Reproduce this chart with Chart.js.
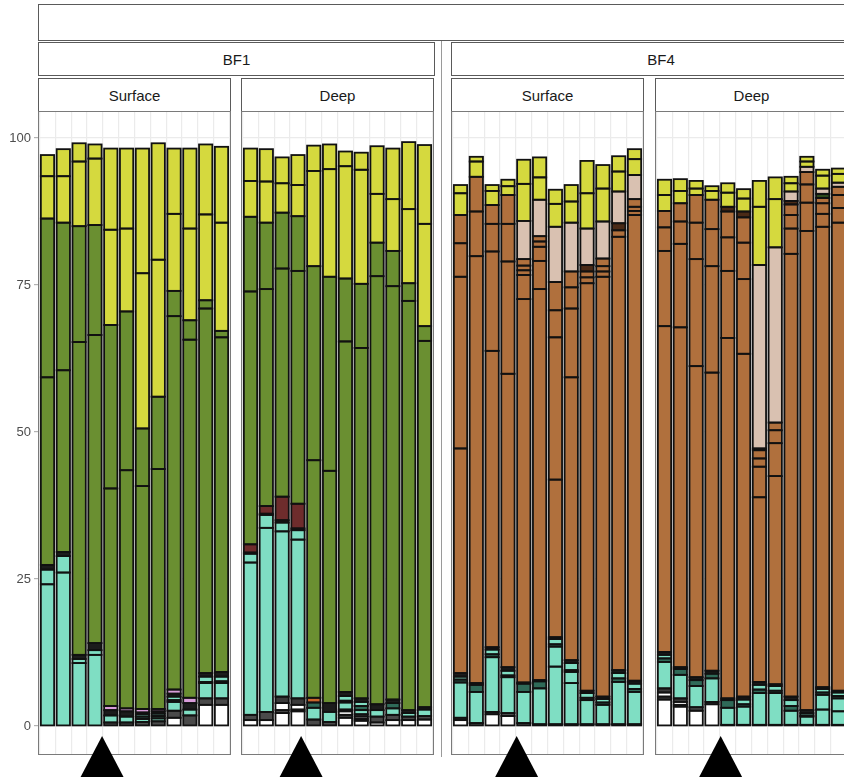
<!DOCTYPE html>
<html>
<head>
<meta charset="utf-8">
<script src="https://cdn.jsdelivr.net/npm/chart.js@4.4.1/dist/chart.umd.min.js"></script>
<style>
  body { margin: 0; background: #fff; width: 844px; height: 777px; overflow: hidden; position: relative;
         font-family: "Liberation Sans", Arial, sans-serif; }
  .strip { position: absolute; box-sizing: border-box; border: 1px solid #5a5a5a; background: #fff;
           color: #1a1a1a; font-size: 15px; display: flex; align-items: center; justify-content: center; }
  .sep { position: absolute; width: 1px; background: #9a9a9a; }
  canvas { position: absolute; }
</style>
</head>
<body>
<div class="strip" style="left:38px;top:4px;width:830px;height:37px"></div>
<div class="strip" style="left:38px;top:42px;width:397px;height:34px">BF1</div>
<div class="strip" style="left:451px;top:42px;width:420px;height:34px">BF4</div>
<div class="strip" style="left:38px;top:78px;width:193px;height:34px">Surface</div>
<div class="strip" style="left:241px;top:78px;width:193px;height:34px">Deep</div>
<div class="strip" style="left:451px;top:78px;width:193px;height:34px">Surface</div>
<div class="strip" style="left:655px;top:78px;width:193px;height:34px">Deep</div>
<div class="sep" style="left:441px;top:41px;height:716px"></div>

<script>
// echantillons (12 par panneau) et graduations
const samples = [1, 2, 3, 4, 5, 6, 7, 8, 9, 10, 11, 12];
const yTicks = [0, 25, 50, 75, 100];
// position des triangles (en unites d'echantillon)
const markerAt = [3.45, 3.2, 3.55, 3.55];

// ordre des couches, du bas vers le haut
const bf1Layers = ['white', 'dark1', 'white2', 'dark2', 'tealA', 'darkteal', 'tealC', 'dark3',
                   'pink', 'orange', 'darkred', 'green1', 'green2', 'yellow1', 'yellow2'];
const bf4Layers = ['white', 'dark1', 'white2', 'dark2', 'tealA', 'tealB', 'darkteal', 'tealC', 'dark3',
                   'brown1', 'brown2', 'brown3', 'brown4', 'brown5', 'darkbrown', 'darkgreen', 'tan',
                   'yellow1', 'yellow2'];

// BF1 - Surface
const bf1Surface = [
  [0, 0, 0, 0, 0, 0, 0, 0, 1.4, 0, 3.6, 3.6],
  [0, 0, 0, 0, 0.6, 0.6, 0.7, 0.8, 1.2, 1.8, 1.1, 1.1],
  [0, 0, 0, 0, 0, 0, 0, 0, 0, 0, 0, 0],
  [0, 0, 0, 0, 0, 0, 0, 0, 0, 0, 0, 0],
  [24.1, 26.1, 10.7, 12.1, 1.2, 1.0, 0.5, 0.5, 1.5, 1.0, 2.6, 2.6],
  [0, 0, 0, 0, 0, 0, 0.4, 0.4, 0.3, 0, 0.2, 0.3],
  [2.5, 2.8, 0.7, 0.8, 0, 0, 0.4, 0.4, 0.6, 0, 0.9, 0.8],
  [0.8, 0.7, 0.7, 1.2, 0.9, 0.9, 0.3, 0.4, 0.5, 1.1, 0.6, 0.8],
  [0, 0, 0, 0, 0.7, 0.5, 0.6, 0.4, 0.7, 0.9, 0, 0],
  [0, 0, 0, 0, 0, 0, 0, 0, 0, 0, 0, 0],
  [0, 0, 0, 0, 0, 0, 0, 0, 0, 0, 0, 0],
  [31.9, 30.9, 53.2, 52.4, 37.0, 40.5, 37.9, 40.8, 63.5, 60.9, 62.0, 56.9],
  [27.0, 25.1, 19.7, 18.7, 27.8, 27.0, 9.8, 12.3, 4.3, 3.3, 1.4, 1.1],
  [7.2, 7.9, 11.0, 11.3, 16.2, 14.1, 26.4, 23.3, 13.1, 15.6, 14.6, 18.4],
  [3.6, 4.6, 3.1, 2.4, 13.8, 13.6, 21.2, 19.8, 11.1, 13.6, 11.9, 12.9]
];

// BF1 - Deep
const bf1Deep = [
  [1.0, 1.0, 2.2, 2.5, 0, 0, 1.4, 0.9, 0.6, 1.0, 1.0, 1.1],
  [0.9, 1.4, 0.5, 0.3, 1.1, 0.7, 0.5, 0.3, 1.0, 0.9, 0.6, 0.6],
  [0, 0, 1.2, 0.8, 0, 0, 0.6, 0.4, 0, 0, 0, 0],
  [0, 0, 1.1, 1.1, 0, 0, 0.3, 0.4, 0, 0, 0, 0],
  [25.9, 31.3, 28.1, 27.0, 2.0, 1.7, 1.2, 0.7, 1.1, 1.1, 0.6, 1.1],
  [0, 0, 0, 0, 0.9, 0, 0.3, 0.7, 0, 0.9, 0, 0],
  [1.5, 2.2, 1.5, 1.6, 0, 0, 0.8, 0.7, 0, 0, 0, 0],
  [0.2, 0.2, 0.4, 0.3, 0, 1.5, 0.7, 0.6, 1.0, 0.6, 0.5, 0.4],
  [0, 0, 0, 0, 0, 0, 0, 0, 0, 0, 0, 0],
  [0, 0, 0, 0, 0.8, 0, 0, 0, 0, 0, 0, 0],
  [1.4, 1.3, 4.0, 4.2, 0, 0, 0, 0, 0, 0, 0, 0],
  [43.0, 36.9, 38.8, 39.6, 40.4, 39.5, 59.6, 59.6, 72.8, 70.3, 69.6, 62.3],
  [12.7, 11.3, 9.5, 9.3, 33.0, 33.0, 10.7, 10.9, 5.7, 6.0, 3.0, 2.5],
  [6.1, 7.0, 5.0, 5.3, 16.2, 18.3, 19.1, 19.4, 8.3, 8.8, 12.6, 17.4],
  [5.5, 5.5, 4.4, 5.1, 4.3, 4.2, 2.5, 2.9, 8.1, 8.6, 11.4, 13.4]
];

// BF4 - Surface
const bf4Surface = [
  [1.0, 0, 2.0, 1.7, 0, 0, 0, 0, 0, 0, 0, 0],
  [0.4, 0.5, 0.4, 0.5, 0.5, 0.3, 0.3, 0.3, 0.3, 0.3, 0.3, 0.3],
  [0, 0, 0, 0, 0, 0, 0, 0, 0, 0, 0, 0],
  [0, 0, 0, 0, 0, 0, 0, 0, 0, 0, 0, 0],
  [6.0, 5.3, 9.3, 6.1, 5.3, 6.1, 9.8, 7.0, 4.1, 3.3, 7.2, 5.5],
  [0, 0, 0, 0, 0, 0, 3.4, 1.9, 0, 0, 0, 0],
  [0.5, 1.2, 0.5, 0.3, 1.4, 1.2, 0.4, 0.3, 0.4, 0.4, 0.6, 0.5],
  [0.5, 0, 0.8, 0.8, 0, 0, 0.9, 1.2, 0.8, 0.6, 0.9, 0.9],
  [0.6, 0.3, 0.4, 0.6, 0.2, 0.2, 0.3, 0.5, 0.4, 0.4, 0.5, 0.5],
  [38.2, 72.6, 50.4, 49.9, 65.2, 66.5, 26.8, 48.1, 69.3, 71.4, 73.7, 79.2],
  [29.2, 7.6, 16.9, 19.1, 4.1, 4.8, 24.2, 11.7, 1.0, 0.9, 1.1, 0.7],
  [5.7, 5.9, 4.7, 6.4, 0.8, 2.4, 4.6, 3.6, 1.0, 0.9, 0, 0.7],
  [4.8, 0, 3.2, 4.9, 0.8, 0.9, 4.8, 2.7, 0, 1.3, 0, 1.3],
  [0, 0, 0, 0, 1.1, 0.9, 0, 0, 0, 0, 0, 0],
  [0, 0, 0, 0, 0, 0, 0, 0, 1.1, 0, 1.2, 0],
  [0, 0, 0, 0, 0, 0, 0, 0, 0, 0, 0, 0],
  [0, 0, 0, 0, 6.5, 6.2, 9.4, 8.3, 6.2, 6.3, 5.4, 4.1],
  [3.7, 2.6, 2.4, 1.5, 6.3, 3.8, 3.9, 3.6, 6.0, 5.6, 3.4, 2.7],
  [1.4, 0.8, 1.0, 1.1, 4.1, 3.4, 2.4, 2.8, 5.5, 4.0, 2.6, 1.7]
];

// BF4 - Deep
const bf4Deep = [
  [4.5, 3.3, 2.6, 3.7, 0, 0, 0, 0, 0, 0, 0, 0],
  [0.5, 0.3, 0.6, 0.4, 0.2, 0.2, 0.2, 0.2, 0.2, 0.2, 0.2, 0.2],
  [0.7, 0.5, 0, 0, 0, 0, 0, 0, 0, 0, 0, 0],
  [0.7, 0.6, 0, 0, 0, 0, 0, 0, 0, 0, 0, 0],
  [4.5, 4.0, 3.6, 4.0, 2.9, 3.1, 5.4, 5.4, 2.4, 1.4, 2.6, 2.3],
  [0, 0, 0, 0, 0, 0, 0, 0, 0, 0, 2.5, 2.2],
  [0.6, 1.0, 1.0, 0.8, 1.3, 0.4, 0.6, 0.4, 0.8, 0.2, 0.4, 0.4],
  [0.6, 0, 0, 0, 0, 0.8, 0.8, 0.8, 1.0, 0.4, 0.6, 0.6],
  [0.5, 0.3, 0.5, 0.5, 0.3, 0.5, 0.5, 0.3, 0.6, 0.5, 0.3, 0.3],
  [55.4, 57.8, 52.9, 50.7, 61.3, 58.3, 31.4, 35.4, 75.3, 81.5, 78.3, 79.6],
  [12.8, 14.2, 18.2, 18.1, 11.4, 12.7, 5.2, 5.6, 4.3, 4.8, 2.2, 2.5],
  [4.0, 3.8, 6.2, 6.3, 5.7, 6.2, 1.4, 2.2, 2.3, 3.1, 1.8, 2.2],
  [2.8, 3.1, 4.7, 5.0, 4.4, 4.3, 1.4, 1.3, 1.8, 2.1, 0.9, 1.4],
  [0, 0, 0, 0, 0, 0, 0.3, 0, 0, 0, 0, 0],
  [0, 0, 0, 0, 0.8, 1.0, 0, 0, 0.6, 0, 0, 0],
  [0, 0, 0, 0, 0, 0, 0, 0, 0, 0, 0.7, 0],
  [0, 0, 0, 0, 0, 0, 31.2, 29.8, 1.6, 0.9, 0.9, 0.7],
  [2.7, 2.1, 1.1, 1.5, 2.4, 2.2, 9.9, 8.2, 1.4, 0.9, 2.2, 1.5],
  [2.6, 2.0, 1.3, 0.8, 1.6, 1.6, 4.4, 3.7, 1.1, 0.8, 1.0, 0.9]
];

const layerColors = {
  white: '#ffffff', dark1: '#4a4a4a', white2: '#ffffff', dark2: '#3a3a3a',
  tealA: '#7fdec3', tealB: '#7fdec3', darkteal: '#2f6a58', tealC: '#7fdec3', dark3: '#1c1c1c',
  pink: '#d99dda', orange: '#c9652b', darkred: '#6e2c2c',
  green1: '#6a8f31', green2: '#6a8f31',
  brown1: '#b0703d', brown2: '#b0703d', brown3: '#b0703d', brown4: '#b0703d', brown5: '#b0703d',
  darkbrown: '#4a2a16', darkgreen: '#2e4a1c', tan: '#d9c1b1',
  yellow1: '#d5d93e', yellow2: '#d5d93e'
};

Chart.defaults.font.family = '"Liberation Sans", Arial, sans-serif';

const panelW = 193;
const panels = [
  { layers: bf1Layers, values: bf1Surface, left: 38, marker: markerAt[0], axis: true },
  { layers: bf1Layers, values: bf1Deep, left: 241, marker: markerAt[1], axis: false },
  { layers: bf4Layers, values: bf4Surface, left: 451, marker: markerAt[2], axis: false },
  { layers: bf4Layers, values: bf4Deep, left: 655, marker: markerAt[3], axis: false }
];

// contour noir centre sur chaque segment (comme ggplot)
const barOutline = {
  id: 'barOutline',
  afterDatasetsDraw(chart) {
    const ctx = chart.ctx;
    ctx.save();
    ctx.strokeStyle = '#111111';
    ctx.lineWidth = 1.8;
    chart.data.datasets.forEach((ds, k) => {
      chart.getDatasetMeta(k).data.forEach((bar, i) => {
        if (ds.data[i].y == null) return;
        const { x, y, base, width } = bar.getProps(['x', 'y', 'base', 'width'], true);
        ctx.strokeRect(x - width / 2, Math.min(y, base), width, Math.abs(base - y));
      });
    });
    ctx.restore();
  }
};

// cadre du panneau + triangle sous l'axe
const panelFrame = {
  id: 'panelFrame',
  afterDraw(chart, args, opts) {
    const { ctx, chartArea: a, scales } = chart;
    ctx.save();
    ctx.strokeStyle = '#7a7a7a';
    ctx.lineWidth = 1;
    ctx.strokeRect(a.left + 0.5, a.top + 0.5, a.width - 1, a.height - 1);
    const x = scales.x.getPixelForValue(opts.marker);
    const apex = a.bottom - 19;
    ctx.fillStyle = '#000';
    ctx.beginPath();
    ctx.moveTo(x, apex);
    ctx.lineTo(x + 22, apex + 42);
    ctx.lineTo(x - 22, apex + 42);
    ctx.closePath();
    ctx.fill();
    ctx.restore();
  }
};

panels.forEach(p => {
  const canvas = document.createElement('canvas');
  const left = p.axis ? 0 : p.left - 1;
  const width = p.axis ? p.left + panelW + 1 : panelW + 2;
  canvas.width = width;
  canvas.height = 666;
  canvas.style.left = left + 'px';
  canvas.style.top = '111px';
  document.body.appendChild(canvas);

  const datasets = p.layers.map((name, k) => ({
    label: name,
    data: p.values[k].map((v, i) => ({ x: i, y: v || null })),
    backgroundColor: layerColors[name],
    borderWidth: 0,
    barPercentage: 0.84,
    categoryPercentage: 1
  }));

  new Chart(canvas, {
    type: 'bar',
    data: { datasets },
    options: {
      responsive: false,
      animation: false,
      layout: { padding: { left: p.axis ? 0 : 1, right: 1, top: 0, bottom: 22 } },
      plugins: {
        legend: { display: false },
        tooltip: { enabled: false },
        panelFrame: { marker: p.marker }
      },
      scales: {
        x: {
          type: 'linear', stacked: true, offset: false,
          min: -0.6, max: samples.length - 0.4,
          afterBuildTicks: s => { s.ticks = samples.map((_, i) => ({ value: i })); },
          ticks: { display: false },
          grid: { color: '#ebebeb', lineWidth: 1.2, drawTicks: false },
          border: { display: false },
          afterFit: s => { s.height = 0; s.paddingLeft = 0; s.paddingRight = 0; }
        },
        y: {
          stacked: true,
          min: -4.93, max: 104.59,
          afterBuildTicks: s => { s.ticks = yTicks.map(v => ({ value: v })); },
          ticks: { display: p.axis, color: '#4d4d4d', font: { size: 13 }, padding: 3 },
          grid: { color: '#ebebeb', lineWidth: 1.2, drawTicks: p.axis, tickLength: 4, tickColor: '#b3b3b3' },
          border: { display: false },
          afterFit: s => { s.width = p.axis ? p.left : 0; s.paddingTop = 0; s.paddingBottom = 0; }
        }
      }
    },
    plugins: [barOutline, panelFrame]
  });
});
</script>
</body>
</html>
